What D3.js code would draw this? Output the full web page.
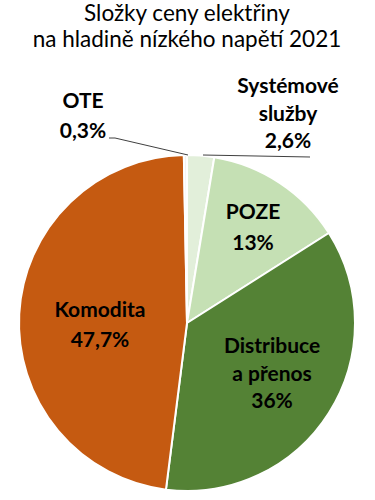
<!DOCTYPE html>
<html>
<head>
<meta charset="utf-8">
<script src="https://cdn.jsdelivr.net/npm/d3@7"></script>
<style>
  body { margin: 0; background: #fff; }
  svg text { font-family: Lato, "Open Sans", sans-serif; fill: #000; }
</style>
</head>
<body>
<svg id="chart" width="375" height="500"></svg>
<script>
// data
var titleLines = ["Složky ceny elektřiny", "na hladině nízkého napětí 2021"];
var categories = ["Systémové\nslužby", "POZE", "Distribuce\na přenos", "Komodita", "OTE"];
var shares = [2.6, 13.4, 36.0, 47.7, 0.3];
var shareLabels = ["2,6%", "13%", "36%", "47,7%", "0,3%"];
var colors = ["#e2efda", "#c5e0b4", "#548235", "#c55a11", "#f2f2f2"];

var svg = d3.select("#chart");
var cx = 187, cy = 323, radius = 168;

// label placement (x centre, first baseline, line step) per slice
var labelPos = {
    "Systémové\nslužby": {x: 288, y: 93, step: 27.5},
    "POZE": {x: 253, y: 219, step: 31},
    "Distribuce\na přenos": {x: 272, y: 353, step: 27.5},
    "Komodita": {x: 100, y: 317, step: 30},
    "OTE": {x: 83, y: 108, step: 30}
};

// leader lines for the two thin slices
var leaders = {
    "Systémové\nslužby": [[310, 157], [203, 155]],
    "OTE": [[109, 138], [115, 138], [188, 155]]
};

var data = categories.map(function(c, i) {
    return {name: c, value: shares[i], label: shareLabels[i], color: colors[i]};
});

// title
svg.append("g")
    .selectAll("text")
    .data(titleLines)
    .enter().append("text")
    .attr("x", 187)
    .attr("y", function(d, i) { return 21 + i * 26; })
    .attr("text-anchor", "middle")
    .style("font-size", "22.5px")
    .text(function(d) { return d; });

var pie = d3.pie()
    .sort(null)
    .value(function(d) { return d.value; });

var arc = d3.arc()
    .innerRadius(0)
    .outerRadius(radius);

var pieG = svg.append("g")
    .attr("transform", "translate(" + cx + "," + cy + ")");

pieG.selectAll("path")
    .data(pie(data))
    .enter().append("path")
    .attr("d", arc)
    .attr("fill", function(d) { return d.data.color; })
    .attr("stroke", "#fff")
    .attr("stroke-width", 2)
    .attr("stroke-linejoin", "round");

// leader lines
var line = d3.line();
svg.append("g")
    .selectAll("path")
    .data(Object.keys(leaders))
    .enter().append("path")
    .attr("d", function(k) { return line(leaders[k]); })
    .attr("fill", "none")
    .attr("stroke", "#404040")
    .attr("stroke-width", 1);

// labels
var labels = svg.append("g")
    .selectAll("text")
    .data(data)
    .enter().append("text")
    .attr("text-anchor", "middle")
    .style("font-size", "21px")
    .style("font-weight", "bold");

labels.each(function(d) {
    var pos = labelPos[d.name];
    var lines = d.name.split("\n").concat([d.label]);
    d3.select(this).selectAll("tspan")
        .data(lines)
        .enter().append("tspan")
        .attr("x", pos.x)
        .attr("y", function(t, i) { return pos.y + i * pos.step; })
        .text(function(t) { return t; });
});
</script>
</body>
</html>
